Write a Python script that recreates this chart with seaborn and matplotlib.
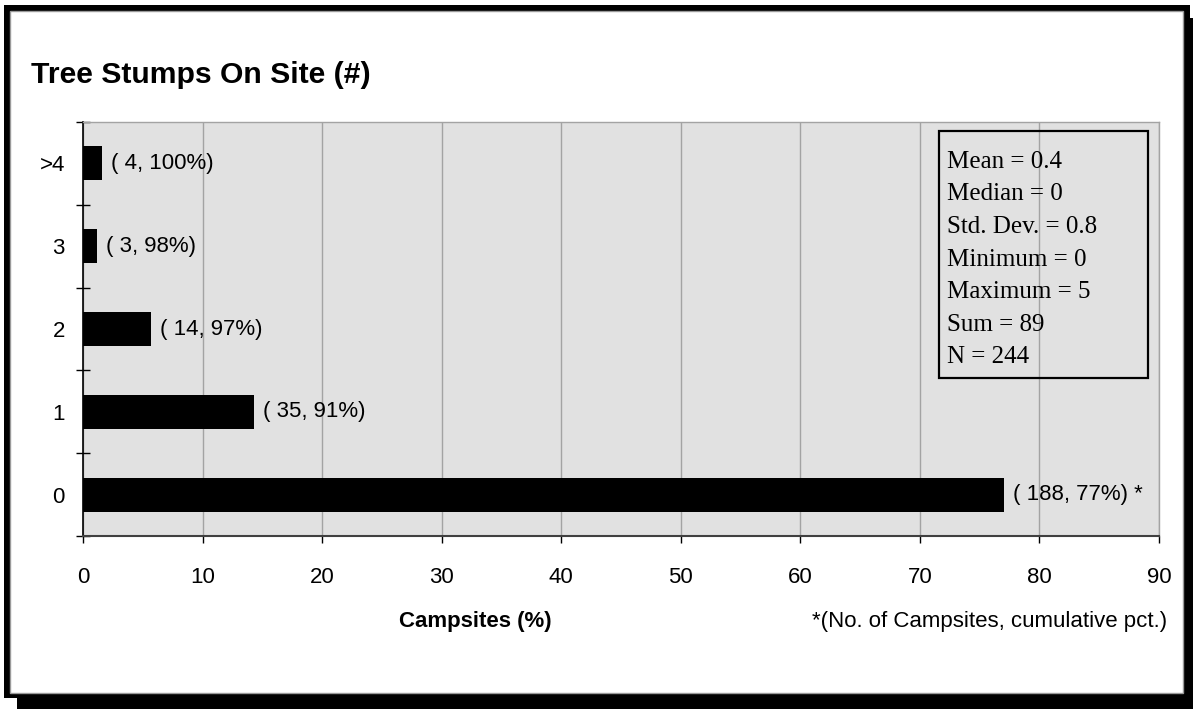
import matplotlib
matplotlib.use("Agg")
import matplotlib.pyplot as plt
from matplotlib.patches import Rectangle
from matplotlib.ticker import MultipleLocator, FixedLocator
import pandas as pd
import seaborn as sns

# Stump counts per campsite
categories = ["0", "1", "2", "3", ">4"]
campsites = [188, 35, 14, 3, 4]
percent = [77.0, 14.3, 5.7, 1.2, 1.6]
cumulative = [77, 91, 97, 98, 100]
stats_lines = ["Mean = 0.4", "Median = 0", "Std. Dev. = 0.8", "Minimum = 0",
               "Maximum = 5", "Sum = 89", "N = 244"]

W, H = 1193, 709
sns.set_theme(style="white")
plt.rcParams["font.family"] = ["Liberation Sans", "DejaVu Sans"]

fig = plt.figure(figsize=(W / 100, H / 100), dpi=100)
fig.patch.set_facecolor("white")


def fx(x):
    return x / W


def fy(y):
    return 1 - y / H


def box(x0, y0, x1, y1, **kw):
    r = Rectangle((fx(x0), fy(y1)), fx(x1) - fx(x0), fy(y0) - fy(y1),
                  transform=fig.transFigure, zorder=-10, **kw)
    fig.add_artist(r)


# Framed panel with a drop shadow
box(17, 18, 1193, 709, facecolor="black", edgecolor="none")
box(4, 5, 1190, 698, facecolor="black", edgecolor="none")
box(10, 11, 1183, 693, facecolor="white", edgecolor="#9a9a9a", linewidth=1)

ax = fig.add_axes([fx(83), fy(536), fx(1159) - fx(83), fy(122) - fy(536)])
ax.set_facecolor("#e1e1e1")

df = pd.DataFrame({"stumps": categories, "pct": percent})
order = categories[::-1]
sns.barplot(data=df, x="pct", y="stumps", order=order, orient="h",
            color="black", width=0.41, saturation=1, linewidth=0,
            edgecolor="black", ax=ax, zorder=3)

ax.set_xlim(0, 90)
ax.set_ylim(len(order) - 0.5, -0.5)
ax.xaxis.set_major_locator(MultipleLocator(10))
ax.grid(axis="x", color="#a3a3a3", linewidth=1, zorder=0)
ax.set_axisbelow(True)

# Category boundaries marked with crossing ticks
ax.yaxis.set_minor_locator(FixedLocator([i - 0.5 for i in range(len(order) + 1)]))
ax.tick_params(axis="y", which="minor", direction="inout", length=10,
               width=1, color="black", left=True)
ax.tick_params(axis="y", which="major", length=0, pad=13, labelsize=16,
               labelcolor="black")
ax.tick_params(axis="x", which="major", direction="out", length=5, width=1,
               color="black", bottom=True, pad=17, labelsize=16,
               labelcolor="black")

for side in ["top", "right"]:
    ax.spines[side].set_color("#a3a3a3")
    ax.spines[side].set_linewidth(1)
ax.spines["left"].set_color("black")
ax.spines["left"].set_linewidth(1.2)
ax.spines["bottom"].set_color("#404040")
ax.spines["bottom"].set_linewidth(1.5)
ax.set_xlabel("")
ax.set_ylabel("")

# Value labels: count and cumulative percentage
for cat, n, p, c in zip(categories, campsites, percent, cumulative):
    label = f"( {n}, {c}%)"
    if cat == "0":
        label += " *"
    ax.annotate(label, xy=(p, order.index(cat)), xytext=(6.5, 0),
                textcoords="offset points", va="center", ha="left",
                fontsize=16, color="black", zorder=5)

# Summary statistics box
stats_box = Rectangle((fx(939), fy(378)), fx(1148) - fx(939), fy(131) - fy(378),
                      transform=fig.transFigure, fill=False, edgecolor="black",
                      linewidth=1.6, zorder=5)
fig.add_artist(stats_box)
for i, line in enumerate(stats_lines):
    fig.text(fx(947), fy(168 + i * 32.5), line, ha="left", va="baseline",
             fontsize=18, family=["Liberation Serif", "DejaVu Serif"],
             color="black", zorder=6)

fig.text(fx(31), fy(83), "Tree Stumps On Site (#)", ha="left", va="baseline",
         fontsize=21.7, fontweight="bold", color="black")
fig.text(fx(475), fy(627), "Campsites (%)", ha="center", va="baseline",
         fontsize=16, fontweight="bold", color="black")
fig.text(fx(1167), fy(627), "*(No. of Campsites, cumulative pct.)", ha="right",
         va="baseline", fontsize=16, color="black")

fig.savefig("out.png", dpi=100)
